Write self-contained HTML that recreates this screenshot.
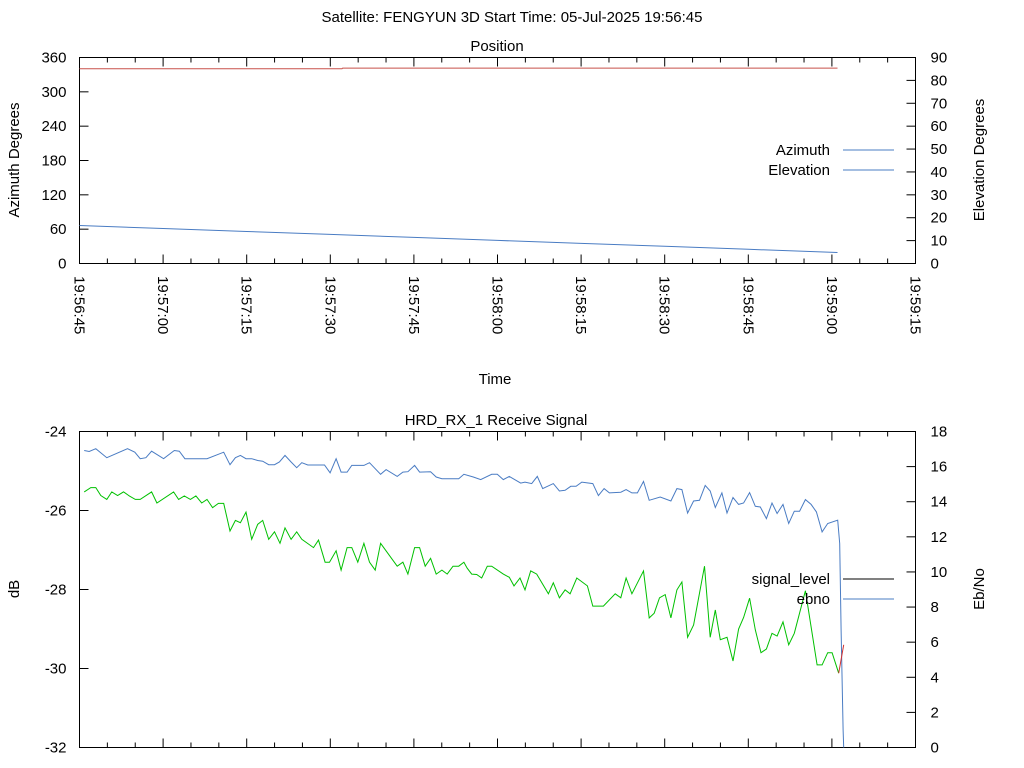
<!DOCTYPE html>
<html><head><meta charset="utf-8"><style>
body{margin:0;background:#fff}
svg{display:block;font-family:"Liberation Sans","DejaVu Sans",sans-serif}
</style></head><body>
<svg id="c" width="1024" height="768" xmlns="http://www.w3.org/2000/svg">
<text x="512" y="22" text-anchor="middle" font-size="15">Satellite: FENGYUN 3D    Start Time: 05-Jul-2025 19:56:45</text>
<text x="497" y="51" text-anchor="middle" font-size="15">Position</text>
<text x="495" y="384" text-anchor="middle" font-size="15">Time</text>
<text x="496" y="425" text-anchor="middle" font-size="15">HRD_RX_1 Receive Signal</text>
<text transform="translate(19,160) rotate(-90)" text-anchor="middle" font-size="15">Azimuth Degrees</text>
<text transform="translate(984,160) rotate(-90)" text-anchor="middle" font-size="15">Elevation Degrees</text>
<text transform="translate(19,589) rotate(-90)" text-anchor="middle" font-size="15">dB</text>
<text transform="translate(984,589) rotate(-90)" text-anchor="middle" font-size="15">Eb/No</text>
<g id="g"></g>
</svg>
<script>
// Top chart data
const posTimes=[0,47.1,47.2,136];
const azimuth=[340.5,340.5,341.5,341.5];
const elevTimes=[0,15,30,45,60,75,90,105,120,136];
const elevation=[16.6,15.3,14.0,12.7,11.4,10.1,8.8,7.5,6.2,4.8];
const timeTickLabels=["19:56:45","19:57:00","19:57:15","19:57:30","19:57:45","19:58:00","19:58:15","19:58:30","19:58:45","19:59:00","19:59:15"];
const azTicks=[0,60,120,180,240,300,360];
const elTicks=[0,10,20,30,40,50,60,70,80,90];
// Bottom chart data
const sigTimes=[0.84,2.03,2.93,3.83,4.90,5.80,6.83,7.90,8.93,10.01,10.90,12.93,13.89,16.89,17.78,18.81,19.89,20.89,21.92,22.87,23.89,24.92,25.87,27.00,27.97,28.87,29.87,30.90,31.98,32.87,33.95,34.98,35.98,36.88,37.96,38.98,39.88,41.98,42.88,44.07,44.86,46.04,46.94,48.02,48.86,49.94,51.02,52.04,53.05,54.02,57.00,58.02,58.92,60.13,61.02,62.03,63.00,64.01,65.03,65.98,67.01,68.03,68.98,69.57,70.37,71.26,72.16,73.17,73.96,76.04,77.12,77.96,79.04,79.94,80.96,82.04,84.13,85.02,86.10,87.13,88.02,89.23,91.13,92.10,94.00,96.11,97.13,98.08,99.11,101.19,102.21,103.11,104.07,105.09,106.11,107.19,108.09,109.10,110.18,112.15,113.17,114.07,114.97,116.17,117.25,118.26,119.16,120.23,121.26,122.28,123.24,124.26,125.16,126.23,127.24,128.26,130.24,132.34,133.24,134.24,135.04,136.22];
const signalDb=[-25.53,-25.42,-25.42,-25.62,-25.72,-25.53,-25.62,-25.53,-25.63,-25.72,-25.72,-25.53,-25.81,-25.53,-25.72,-25.63,-25.72,-25.63,-25.81,-25.72,-25.93,-25.82,-25.82,-26.52,-26.25,-26.31,-26.04,-26.73,-26.35,-26.25,-26.73,-26.54,-26.83,-26.44,-26.73,-26.54,-26.73,-26.94,-26.75,-27.31,-27.31,-27.02,-27.51,-26.94,-26.94,-27.31,-26.83,-27.31,-27.51,-26.83,-27.41,-27.31,-27.61,-26.94,-26.94,-27.41,-27.21,-27.61,-27.51,-27.61,-27.41,-27.41,-27.31,-27.46,-27.61,-27.62,-27.71,-27.41,-27.41,-27.61,-27.69,-27.91,-27.71,-28.01,-27.53,-27.61,-28.11,-27.83,-28.21,-28.01,-28.11,-27.71,-27.91,-28.42,-28.42,-28.11,-28.21,-27.71,-28.11,-27.53,-28.72,-28.60,-28.21,-28.13,-28.72,-28.01,-27.81,-29.21,-28.90,-27.41,-29.21,-28.52,-29.27,-29.21,-29.81,-29.00,-28.71,-28.22,-29.02,-29.60,-29.51,-29.11,-29.18,-28.82,-29.40,-29.11,-28.03,-29.91,-29.91,-29.60,-29.60,-30.12];
const lowTimes=[136.22,137.12];
const lowSignalDb=[-30.12,-29.40];
const ebTimes=[0.84,1.74,2.93,4.90,8.62,9.93,10.90,11.91,12.93,15.09,17.01,17.91,18.92,22.87,25.87,27.00,27.97,28.87,29.87,30.90,31.98,32.87,33.95,34.98,35.87,36.88,37.96,38.98,39.88,40.96,43.96,44.96,46.04,46.94,48.02,48.86,51.02,52.04,54.02,55.02,57.00,58.02,58.92,60.13,61.02,63.00,64.01,65.03,68.03,68.98,70.65,71.98,73.96,74.96,76.04,77.12,79.17,79.94,81.14,82.15,83.11,85.02,86.10,87.13,88.15,89.10,90.12,92.10,93.11,94.13,95.08,97.13,98.08,99.11,100.11,101.19,102.21,104.19,106.11,107.19,108.09,109.10,110.18,111.25,112.27,113.17,114.07,115.27,116.17,117.25,118.26,119.16,120.23,121.26,122.16,123.24,124.26,125.16,126.23,127.24,128.26,129.21,130.24,131.26,132.21,133.24,134.24,136.04,136.40,136.65,137.01,137.12];
const ebno=[16.92,16.86,17.02,16.51,17.02,16.82,16.45,16.51,16.88,16.45,16.92,16.88,16.45,16.45,16.82,16.11,16.51,16.64,16.45,16.45,16.35,16.31,16.11,16.11,16.26,16.64,16.26,15.94,16.22,16.09,16.09,15.65,16.45,15.69,15.69,16.07,16.07,16.22,15.56,15.83,15.44,15.69,15.71,16.07,15.69,15.71,15.41,15.31,15.31,15.56,15.41,15.26,15.56,15.56,15.26,15.44,15.06,15.12,15.03,15.44,14.75,15.03,14.61,14.65,14.88,14.88,15.12,15.03,14.35,14.75,14.50,14.54,14.69,14.50,14.50,15.16,14.08,14.27,14.04,14.75,14.69,13.36,14.04,14.08,14.93,14.61,13.67,14.50,13.36,14.24,13.85,13.93,14.52,13.74,13.70,13.04,13.93,13.33,13.85,12.76,13.46,13.46,14.12,13.85,13.42,12.28,12.76,12.95,11.62,6.70,1.02,0];
const dbTicks=[-32,-30,-28,-26,-24];
const ebTicks=[0,2,4,6,8,10,12,14,16,18];

const NS="http://www.w3.org/2000/svg";
const G=document.getElementById('g');
const X0=79.5,X1=915.5,TMAX=150;
const xS=t=>X0+t/TMAX*(X1-X0);
const T0=57.5,T1=263.5,B0=431.5,B1=747.5;
const yAz=v=>T1-v/360*(T1-T0);
const yEl=v=>T1-v/90*(T1-T0);
const yDb=v=>B1-(v+32)/8*(B1-B0);
const yEb=v=>B1-v/18*(B1-B0);
function mk(tag,at){const e=document.createElementNS(NS,tag);for(const k in at)e.setAttribute(k,at[k]);G.appendChild(e);return e;}
function poly(ts,vs,f,color){return mk('polyline',{points:ts.map((t,i)=>xS(t).toFixed(1)+','+f(vs[i]).toFixed(1)).join(' '),fill:'none',stroke:color,'stroke-width':1});}

function frame(top,bot,nm){
  const r=mk('rect',{x:X0,y:top,width:X1-X0,height:bot-top,fill:'none',stroke:'#000','stroke-width':1});
  
  
  for(let s=0;s<=TMAX;s+=5){
    const x=xS(s),len=(s%15===0)?9:5;
    const t1=mk('line',{x1:x,y1:bot,x2:x,y2:bot-len,stroke:'#000'});
    
    
    const t2=mk('line',{x1:x,y1:top,x2:x,y2:top+len,stroke:'#000'});
    
    
  }
}
function yTicks(vals,f,side,nm){
  vals.forEach(v=>{
    const y=f(v);
    const l=side==='l'?mk('line',{x1:X0,y1:y,x2:X0+9,y2:y,stroke:'#000'}):mk('line',{x1:X1,y1:y,x2:X1-9,y2:y,stroke:'#000'});
    
    
    const t=mk('text',{x:side==='l'?X0-13:X1+15,y:y+5,'font-size':15,'text-anchor':side==='l'?'end':'start'});
    t.textContent=String(v);
    
    
  });
}
frame(T0,T1,'position');
frame(B0,B1,'signal');
yTicks(azTicks,yAz,'l','azimuth-axis');
yTicks(elTicks,yEl,'r','elevation-axis');
yTicks(dbTicks,yDb,'l','db-axis');
yTicks(ebTicks,yEb,'r','ebno-axis');
timeTickLabels.forEach((s,i)=>{
  const x=xS(i*15);
  const t=mk('text',{transform:`translate(${x-5},276) rotate(90)`,'font-size':15});
  t.textContent=s;
  
  
});
// series
let e;
e=poly(posTimes,azimuth,yAz,'#c8504a');


e=poly(elevTimes,elevation,yEl,'#4a7cc3');


e=poly(ebTimes,ebno,yEb,'#4a7cc3');


e=poly(sigTimes,signalDb,yDb,'#00c000');


e=poly(lowTimes,lowSignalDb,yDb,'#d03030');


// legends
function legend(label,y,color,nm){
  const t=mk('text',{x:830,y:y+5,'font-size':15,'text-anchor':'end'});
  t.textContent=label;
  
  
  const l=mk('line',{x1:843,y1:y,x2:894,y2:y,stroke:color});
  
  
}
legend('Azimuth',150,'#4a7cc3','azimuth');
legend('Elevation',170,'#4a7cc3','elevation');
legend('signal_level',579,'#000','signal-level');
legend('ebno',599,'#4a7cc3','ebno');
</script>
</body></html>
